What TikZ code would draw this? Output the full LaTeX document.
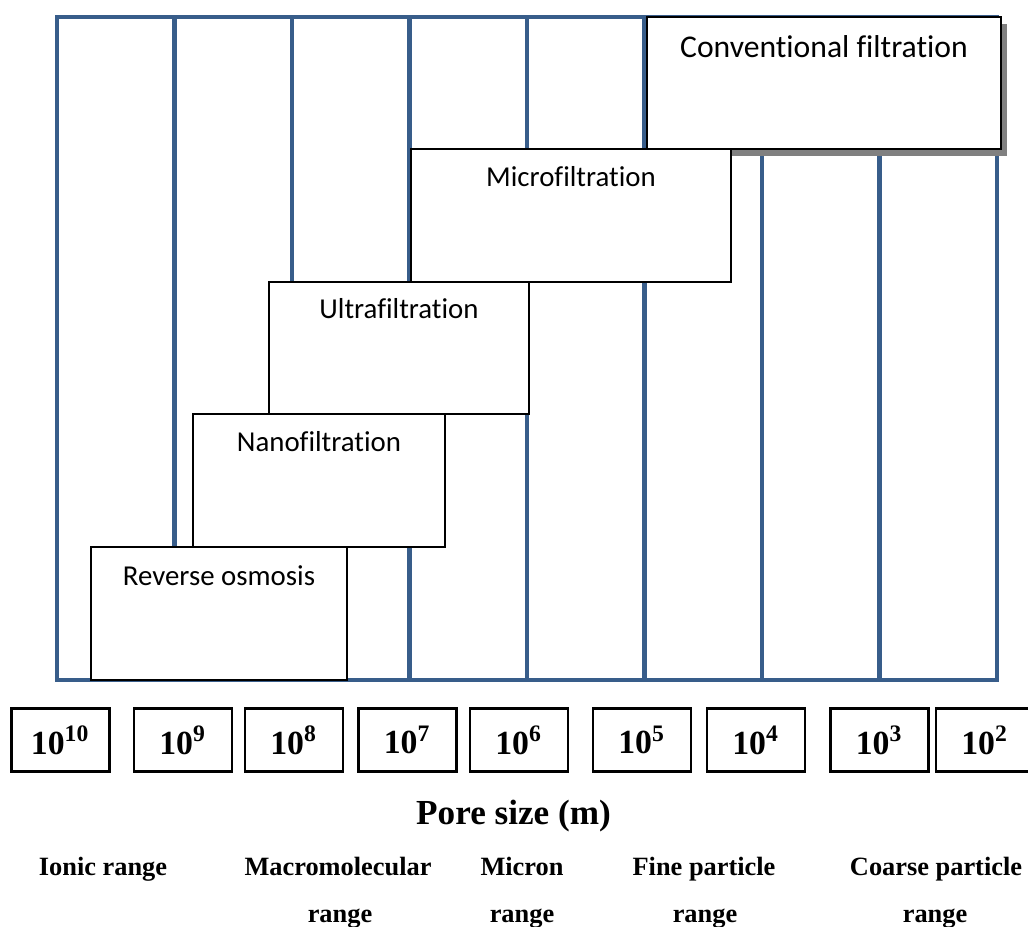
\documentclass[tikz,border=0pt]{standalone}
\usepackage{fontspec}
\setmainfont{Liberation Serif}
\newfontfamily\calfont[Ligatures=CommonOff]{Carlito}
\usetikzlibrary{positioning,calc,fit,shadows}
\definecolor{gridblue}{HTML}{385D8A}

\begin{document}
\begin{tikzpicture}[x=0.01cm, y=-0.01cm,
    grid/.style={draw=gridblue, line width=1.4pt},
    memb/.style={draw, fill=white, line width=0.6pt, inner sep=0pt},
    membtext/.style={anchor=base, inner sep=0pt, font=\calfont\fontsize{8.2}{10}\selectfont},
    expbox/.style={draw, line width=0.6pt, minimum width=0.98cm, minimum height=0.63cm, inner sep=0pt, font=\bfseries\fontsize{9.6}{11}\selectfont},
    rng/.style={anchor=base, inner sep=0pt, font=\bfseries\fontsize{7.5}{9}\selectfont}
]
\useasboundingbox (0,0) rectangle (1028,926);

% blue frame with columns
\draw[grid] (57,17) rectangle (997,680);
\foreach \x in {174.5,292,409.5,527,644.5,762,879.5}
  \draw[grid] (\x,17) -- (\x,680);

% membrane processes
\node[memb, fit={(647,17) (1001,149)}, drop shadow={shadow xshift=1.7pt, shadow yshift=-2pt, fill=black!50, opacity=1}] (conv) {};
\node[memb, fit={(411,149) (731,282)}] (micro) {};
\node[memb, fit={(269,282) (529,414)}] (ultra) {};
\node[memb, fit={(193,414) (445,547)}] (nano) {};
\node[memb, fit={(91,547) (347,680)}] (ro) {};

\node[membtext, font=\calfont\fontsize{9}{11}\selectfont] (convtext) at ($(conv.north)+(0,42)$) {Conventional filtration};
\node[membtext] (microtext) at ($(micro.north)+(0,39)$) {Microfiltration};
\node[membtext] (ultratext) at ($(ultra.north)+(0,38)$) {Ultrafiltration};
\node[membtext] (nanotext) at ($(nano.north)+(0,39)$) {Nanofiltration};
\node[membtext] (rotext) at ($(ro.north)+(0,40)$) {Reverse osmosis};

% pore size scale
\foreach \x/\e [count=\i] in {60.5/10,183/9,294/8,407.5/7,519/6,642/5,756/4,879.5/3,985/2}
  \node[expbox] (e\i) at (\x,740) {10\textsuperscript{\e}};

\node[anchor=base, inner sep=0pt, font=\bfseries\fontsize{10}{12}\selectfont] (poresize) at (513.5,824) {Pore size (m)};

% size ranges
\node[rng] (ionic) at (103,875) {Ionic range};
\node[rng] (macro) at (338,875) {Macromolecular};
\node[rng] (micron) at (522,875) {Micron};
\node[rng] (fine) at (704,875) {Fine particle};
\node[rng] (coarse) at (936,875) {Coarse particle};
\foreach \x/\n in {340/macro,522/micron,705/fine,935/coarse}
  \node[rng] (\n2) at (\x,922) {range};
\end{tikzpicture}
\end{document}
